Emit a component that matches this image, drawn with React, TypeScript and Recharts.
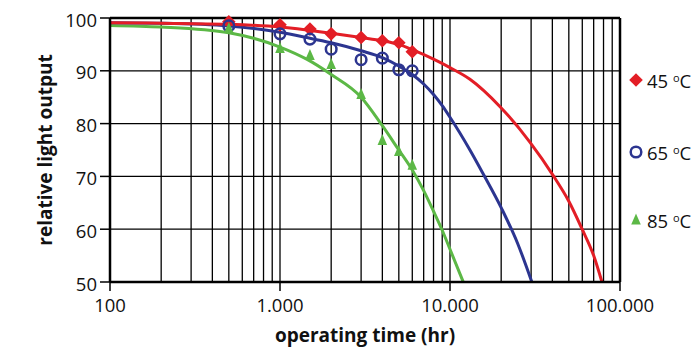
import {
  ComposedChart,
  CartesianGrid,
  Line,
  ReferenceLine,
  Scatter,
  XAxis,
  YAxis,
} from "recharts";

const RED = "#e31e26";
const BLUE = "#2c3590";
const GREEN = "#5cb846";

// measured points
const sampleHours = [500, 1000, 1500, 2000, 3000, 4000, 5000, 6000];
const measured45 = [99.3, 98.7, 97.9, 97.0, 96.3, 95.7, 95.3, 93.6];
const measured65 = [98.5, 97.0, 96.0, 94.1, 92.1, 92.4, 90.2, 90.0];
const measured85 = [98.0, 94.2, 92.9, 91.2, 85.5, 76.8, 74.7, 72.1];

// fitted curves
const fitHours45 = [100, 200, 500, 1000, 2000, 3000, 4000, 5000, 6000, 8000, 10000, 13100, 19700, 29500, 40400, 50000, 59700, 70000, 78300];
const fit45 = [99.1, 99.0, 98.8, 98.3, 97.1, 96.3, 95.7, 95.0, 94.0, 92.2, 90.6, 88.4, 83.2, 76.5, 70.2, 65.3, 60.1, 55.0, 50.0];
const fitHours65 = [100, 200, 500, 1000, 1435, 2000, 3000, 4000, 5000, 6000, 7000, 8000, 9000, 10000, 13100, 15600, 20200, 25000, 30300];
const fit65 = [99.1, 99.0, 98.5, 97.3, 96.3, 95.3, 93.8, 92.5, 90.9, 89.3, 87.5, 85.5, 83.4, 81.2, 75.0, 70.6, 63.8, 57.3, 50.0];
const fitHours85 = [100, 200, 500, 1000, 1435, 2000, 3000, 4000, 5000, 6000, 7000, 8000, 9000, 10000, 11970];
const fit85 = [98.6, 98.3, 97.2, 94.5, 92.2, 89.3, 85.0, 79.6, 75.0, 71.2, 67.3, 63.4, 59.8, 56.2, 50.0];

const majorTicks = [100, 1000, 10000, 100000];
const minorTicks = [
  200, 300, 400, 500, 600, 700, 800, 900,
  2000, 3000, 4000, 5000, 6000, 7000, 8000, 9000,
  20000, 30000, 40000, 50000, 60000, 70000, 80000, 90000,
];
const yTicks = [50, 60, 70, 80, 90, 100];

const toPoints = (xs: number[], ys: number[]) => xs.map((x, i) => ({ x, y: ys[i] }));

const formatHours = (v: number) => String(v).replace(/\B(?=(\d{3})+(?!\d))/g, ".");

function Diamond({ cx, cy }: any) {
  const s = 6.8;
  return (
    <polygon
      points={`${cx},${cy - s} ${cx + s},${cy} ${cx},${cy + s} ${cx - s},${cy}`}
      fill={RED}
    />
  );
}

function Ring({ cx, cy }: any) {
  return <circle cx={cx} cy={cy} r={5.3} fill="none" stroke={BLUE} strokeWidth={2.5} />;
}

function Triangle({ cx, cy }: any) {
  return (
    <polygon
      points={`${cx},${cy - 6.5} ${cx + 4.8},${cy + 4.5} ${cx - 4.8},${cy + 4.5}`}
      fill={GREEN}
    />
  );
}

const legendItems = [
  { label: "45 ", marker: Diamond, top: 80 },
  { label: "65 ", marker: Ring, top: 152 },
  { label: "85 ", marker: Triangle, top: 220 },
];

const axisText = { fill: "#111", fontSize: 18.5 };
const frame = { stroke: "#000", strokeWidth: 2.5 };
const tickStroke = { stroke: "#000", strokeWidth: 1.5 };

const gridHours = [...majorTicks, ...minorTicks].sort((a, b) => a - b);

export default function App() {
  return (
    <div
      style={{
        position: "absolute",
        left: 0,
        top: 0,
        width: 698,
        height: 350,
        background: "#fff",
        fontFamily: "'Open Sans', sans-serif",
      }}
    >
      <ComposedChart
        width={698}
        height={350}
        margin={{ top: 18, right: 78, left: 0, bottom: 0 }}
      >
        <CartesianGrid stroke="#000" strokeWidth={1.3} xAxisId="grid" />
        <ReferenceLine y={100} {...frame} />
        <ReferenceLine x={100000} {...frame} />
        <XAxis
          xAxisId="grid"
          dataKey="x"
          type="number"
          scale="log"
          domain={[100, 100000]}
          ticks={gridHours}
          interval={0}
          tickFormatter={() => ""}
          allowDataOverflow
          hide
        />
        <XAxis
          dataKey="x"
          type="number"
          scale="log"
          domain={[100, 100000]}
          ticks={majorTicks}
          allowDataOverflow
          tickFormatter={formatHours}
          height={68}
          tickSize={9}
          tickMargin={8}
          axisLine={frame}
          tickLine={tickStroke}
          tick={axisText}
          label={{
            value: "operating time (hr)",
            position: "insideBottom",
            offset: 8,
            style: { fontSize: 19, fontWeight: 700, fill: "#111" },
          }}
        />
        <YAxis
          dataKey="y"
          type="number"
          domain={[50, 100]}
          ticks={yTicks}
          width={110}
          tickSize={10}
          tickMargin={3}
          axisLine={frame}
          tickLine={tickStroke}
          tick={{ ...axisText, dy: 2 }}
          label={{
            value: "relative light output",
            angle: -90,
            position: "insideLeft",
            offset: 45,
            style: { fontSize: 19, fontWeight: 700, fill: "#111", textAnchor: "middle" },
          }}
        />
        <Line data={toPoints(fitHours85, fit85)} dataKey="y" type="monotone" stroke={GREEN} strokeWidth={3} dot={false} isAnimationActive={false} />
        <Line data={toPoints(fitHours65, fit65)} dataKey="y" type="monotone" stroke={BLUE} strokeWidth={3} dot={false} isAnimationActive={false} />
        <Line data={toPoints(fitHours45, fit45)} dataKey="y" type="monotone" stroke={RED} strokeWidth={3} dot={false} isAnimationActive={false} />
        <Scatter data={toPoints(sampleHours, measured45)} dataKey="y" shape={Diamond} isAnimationActive={false} />
        <Scatter data={toPoints(sampleHours, measured65)} dataKey="y" shape={Ring} isAnimationActive={false} />
        <Scatter data={toPoints(sampleHours, measured85)} dataKey="y" shape={Triangle} isAnimationActive={false} />
      </ComposedChart>

      {legendItems.map(({ label, marker: Marker, top }) => (
        <div
          key={label}
          style={{
            position: "absolute",
            left: 627,
            top: top - 13,
            height: 26,
            display: "flex",
            alignItems: "center",
            fontSize: 18.5,
            color: "#111",
            whiteSpace: "nowrap",
          }}
        >
          <svg width={18} height={18} style={{ marginRight: 2 }}>
            <Marker cx={9} cy={9} />
          </svg>
          <span>
            {label}
            <span style={{ fontSize: 11, verticalAlign: "6px" }}>o</span>C
          </span>
        </div>
      ))}
    </div>
  );
}
